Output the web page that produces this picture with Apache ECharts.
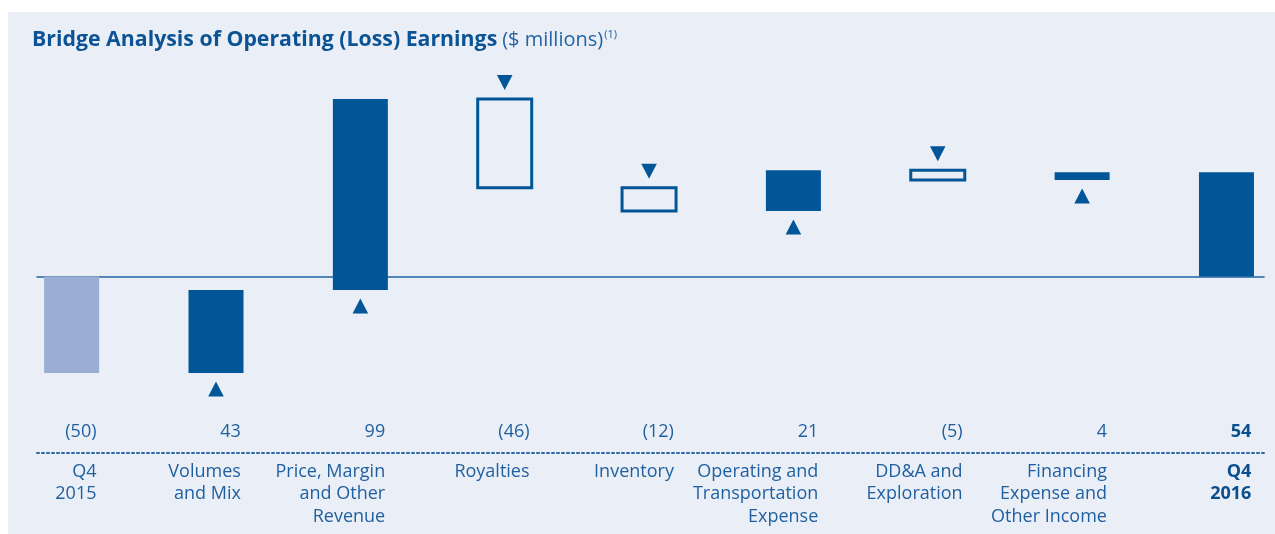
<!DOCTYPE html>
<html>
<head>
<meta charset="utf-8">
<script src="https://cdn.jsdelivr.net/npm/echarts@6/dist/echarts.min.js"></script>
<style>
  html, body { margin: 0; padding: 0; background: #ffffff; }
  #panel { position: absolute; left: 8px; top: 12px; width: 1267px; height: 522px; background: #eaeff7; }
  #chart { position: absolute; left: 0; top: 0; width: 1275px; height: 534px; }
</style>
</head>
<body>
<div id="panel"></div>
<div id="chart"></div>
<script>
// ---- data ----
const categories = [
  'Q4\n2015',
  'Volumes\nand Mix',
  'Price, Margin\nand Other\nRevenue',
  'Royalties',
  'Inventory',
  'Operating and\nTransportation\nExpense',
  'DD&A and\nExploration',
  'Financing\nExpense and\nOther Income',
  'Q4\n2016'
];
const changes = [-50, 43, 99, -46, -12, 21, -5, 4, 54];
const valueLabels = ['(50)', '43', '99', '(46)', '(12)', '21', '(5)', '4', '54'];

// ---- build waterfall items: [index, start, end, kind] ----
// kind: 0 = opening total, 1 = increase, 2 = decrease, 3 = closing total
const items = [];
let running = 0;
changes.forEach((v, i) => {
  if (i === 0) {
    items.push([i, 0, v, 0]);
    running = v;
  } else if (i === changes.length - 1) {
    items.push([i, 0, v, 3]);
  } else {
    const start = running;
    running += v;
    items.push([i, start, running, v >= 0 ? 1 : 2]);
  }
});

const DARK = '#005696';
const LIGHT = '#9aadd4';
const TEXT = '#1f5f9f';
const BOLDTEXT = '#0b4f8e';
const FONT = 'Open Sans';
const lastIdx = categories.length - 1;

const chart = echarts.init(document.getElementById('chart'), null, { renderer: 'canvas' });

const xMin = -0.24, xMax = 8.26;

function richLines(val, style) {
  return val.split('\n').map(s => '{' + style + '|' + s + '}').join('\n');
}

chart.setOption({
  backgroundColor: 'transparent',
  animation: false,
  title: {
    left: 32, top: 29, padding: 0,
    text: '{a|Bridge Analysis of Operating (Loss) Earnings} {b|($ millions)}{c|(1)}',
    textStyle: {
      rich: {
        a: { fontFamily: FONT, fontWeight: 'bold', fontSize: 21.3, color: '#0b5394' },
        b: { fontFamily: FONT, fontWeight: 'normal', fontSize: 20, color: '#2463a3' },
        c: { fontFamily: FONT, fontWeight: 'normal', fontSize: 11, color: '#2463a3', padding: [0, 0, 11, 1] }
      }
    }
  },
  grid: [
    { left: 37, right: 11, top: 83.5, height: 308.8 },
    { left: 96.5, width: 1154.8, top: 452.5, height: 1 }
  ],
  xAxis: [
    {
      type: 'value', gridIndex: 0, min: xMin, max: xMax, position: 'bottom',
      axisLine: { show: true, onZero: true, lineStyle: { color: '#2064a6', width: 1.6 } },
      axisTick: { show: false }, axisLabel: { show: false }, splitLine: { show: false }
    },
    {
      type: 'value', gridIndex: 0, min: xMin, max: xMax, position: 'bottom', offset: 60.7,
      axisLine: { show: true, onZero: false, lineStyle: { color: '#2d6aa8', width: 2, type: [2, 3] } },
      axisTick: { show: false }, axisLabel: { show: false }, splitLine: { show: false }
    },
    {
      type: 'category', gridIndex: 1, position: 'top', data: valueLabels, boundaryGap: false,
      axisLine: { show: false }, axisTick: { show: false }, splitLine: { show: false },
      axisLabel: {
        interval: 0, align: 'right', margin: 12,
        formatter: (val, idx) => idx === lastIdx ? '{b|' + val + '}' : '{n|' + val + '}',
        rich: {
          n: { fontFamily: FONT, fontSize: 18, color: TEXT, align: 'right' },
          b: { fontFamily: FONT, fontSize: 18, fontWeight: 'bold', color: BOLDTEXT, align: 'right' }
        }
      }
    },
    {
      type: 'category', gridIndex: 1, position: 'bottom', data: categories, boundaryGap: false,
      axisLine: { show: false }, axisTick: { show: false }, splitLine: { show: false },
      axisLabel: {
        interval: 0, align: 'right', margin: 7,
        formatter: (val, idx) => richLines(val, idx === lastIdx ? 'b' : 'n'),
        rich: {
          n: { fontFamily: FONT, fontSize: 18, lineHeight: 22.5, color: TEXT, align: 'right' },
          b: { fontFamily: FONT, fontSize: 18, lineHeight: 22.5, fontWeight: 'bold', color: BOLDTEXT, align: 'right' }
        }
      }
    }
  ],
  yAxis: [
    { type: 'value', gridIndex: 0, min: -60, max: 100, show: false, splitLine: { show: false } },
    { type: 'value', gridIndex: 1, show: false, splitLine: { show: false } }
  ],
  series: [
    {
      type: 'custom',
      xAxisIndex: 0, yAxisIndex: 0,
      clip: false,
      z: 5,
      data: items,
      renderItem: function (params, api) {
        const i = api.value(0), a = api.value(1), b = api.value(2), kind = api.value(3);
        const pTop = api.coord([i, Math.max(a, b)]);
        const pBot = api.coord([i, Math.min(a, b)]);
        const cx = pTop[0], top = pTop[1], bottom = pBot[1];
        const children = [];
        if (kind === 2) {
          children.push({
            type: 'rect',
            shape: { x: cx - 27, y: top, width: 54, height: bottom - top },
            style: { fill: 'none', stroke: DARK, lineWidth: 3 }
          });
          children.push({
            type: 'polygon',
            shape: { points: [[cx - 7.8, top - 24], [cx + 7.8, top - 24], [cx, top - 9]] },
            style: { fill: DARK }
          });
        } else {
          children.push({
            type: 'rect',
            shape: { x: cx - 27.5, y: top, width: 55, height: bottom - top },
            style: { fill: kind === 0 ? LIGHT : DARK }
          });
          if (kind === 1) {
            children.push({
              type: 'polygon',
              shape: { points: [[cx - 7.8, bottom + 23.5], [cx + 7.8, bottom + 23.5], [cx, bottom + 8.5]] },
              style: { fill: DARK }
            });
          }
        }
        return { type: 'group', children: children };
      }
    }
  ]
});
</script>
</body>
</html>
